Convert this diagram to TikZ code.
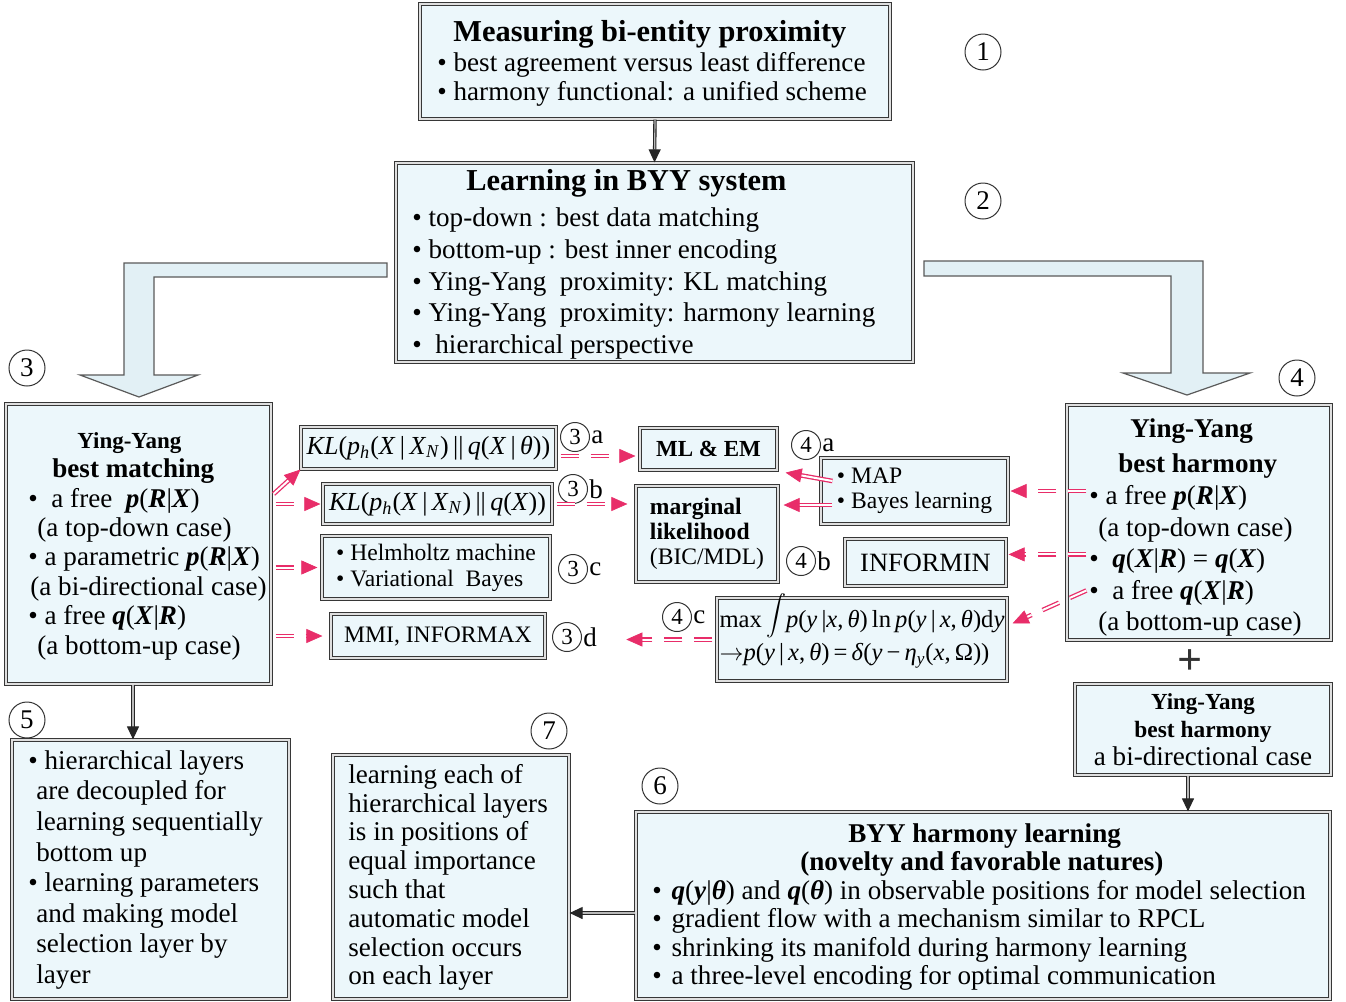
\documentclass[tikz,border=0pt]{standalone}
\usepackage{fontspec}
\setmainfont{Liberation Serif}
\usetikzlibrary{arrows.meta,calc}
\definecolor{boxfill}{RGB}{236,247,251}
\definecolor{boxline}{RGB}{55,55,55}
\definecolor{pinkc}{RGB}{232,45,105}
\definecolor{arrfill}{RGB}{226,240,245}
\definecolor{arrline}{RGB}{90,90,90}
\newcommand\mi[1]{\textit{#1}}
\newcommand\bi[1]{\textbf{\textit{#1}}}
\begin{document}
\begin{tikzpicture}[x=0.5pt,y=-0.5pt,
  bx/.style={draw=boxline, double=gray!25, double distance=0.9pt, line width=0.6pt, fill=boxfill, inner sep=0pt, rectangle},
  txt/.style={inner sep=0pt, align=left, anchor=west},
  cbig/.style={circle, draw=black!80, line width=0.5pt, minimum size=18pt, inner sep=0pt, font=\fontsize{13.5}{13.5}\selectfont},
  csmall/.style={circle, draw=black!80, line width=0.5pt, minimum size=14.5pt, inner sep=0pt, font=\fontsize{11.5}{11.5}\selectfont},
  lett/.style={inner sep=0.5pt, anchor=west, font=\fontsize{13.5}{13.5}\selectfont},
  pks/.style={draw=pinkc, double=white, line width=0.65pt, double distance=1pt},
  pkd/.style={pks, dash pattern=on 9pt off 6pt},
  pkt/.style={draw=pinkc, line width=0.3pt, dash pattern=on 0pt off 3000pt, -{Triangle[length=8pt,width=7pt]}},
  blk/.style={draw=black!85, double=gray!55, line width=0.55pt, double distance=0.6pt, -{Triangle[length=6.5pt,width=6pt]}},
  hollow/.style={draw=arrline, line width=0.6pt, fill=arrfill}
]
\fill[white] (0,0) rectangle (1346,1002);
\useasboundingbox (0,0) rectangle (1346,1002);

% hollow block arrows
\draw[hollow] (387,263) -- (124,263) -- (124,375) -- (80,375) -- (139,397) -- (198,375) -- (154,375) -- (154,277) -- (387,277) -- cycle;
\draw[hollow] (924,261) -- (1203,261) -- (1203,373) -- (1250,373) -- (1187,395) -- (1123,373) -- (1171,373) -- (1171,276) -- (924,276) -- cycle;

% big boxes
\node[bx, minimum width=235pt, minimum height=57.5pt] (b1) at (655,61.5) {};
\node[txt, font=\fontsize{13.55}{14.6}\selectfont] (b1t) at (437,63.5)
  {\hspace*{8pt}{\fontsize{15.2}{15}\selectfont\bfseries Measuring bi-entity proximity}\\
   • best agreement versus least difference\\
   • harmony functional: a unified scheme};

\node[bx, minimum width=258.5pt, minimum height=99.5pt] (b2) at (654.5,262.5) {};
\node[txt, font=\fontsize{13.55}{15.9}\selectfont] (b2t) at (412,264.5)
  {\hspace*{27pt}{\fontsize{15.2}{15}\selectfont\bfseries Learning in BYY system}\\[2pt]
   • top-down : best data matching\\
   • bottom-up : best inner encoding\\
   • Ying-Yang\ \ proximity: KL matching\\
   • Ying-Yang\ \ proximity: harmony learning\\
   •\ \ hierarchical perspective};

\node[bx, minimum width=132.5pt, minimum height=140pt] (b3) at (138.5,544) {};
\node[txt, font=\fontsize{13.55}{14.7}\selectfont] (b3t) at (28,546)
  {\hspace*{24.5pt}{\fontsize{11.5}{14.7}\selectfont\bfseries Ying-Yang}\\
   \hspace*{12pt}\textbf{best matching}\\
   •\ \ a free\ \ \bi{p}(\bi{R}|\bi{X})\\
   \hspace*{4.5pt}(a top-down case)\\
   • a parametric \bi{p}(\bi{R}|\bi{X})\\
   \hspace*{1pt}(a bi-directional case)\\
   • a free \bi{q}(\bi{X}|\bi{R})\\
   \hspace*{4.5pt}(a bottom-up case)};

\node[bx, minimum width=132pt, minimum height=117.5pt] (b4) at (1199,522.5) {};
\node[txt, font=\fontsize{13.55}{15.8}\selectfont] (b4t) at (1089,527.5)
  {\hspace*{20.5pt}\textbf{Ying-Yang}\\[2pt]
   \hspace*{14.5pt}\textbf{best harmony}\\
   • a free \bi{p}(\bi{R}|\bi{X})\\
   \hspace*{4.5pt}(a top-down case)\\
   •\ \ \bi{q}(\bi{X}|\bi{R}) = \bi{q}(\bi{X})\\
   •\ \ a free \bi{q}(\bi{X}|\bi{R})\\
   \hspace*{4.5pt}(a bottom-up case)};

\node[font=\fontsize{22}{22}\selectfont\bfseries, text=black!80, inner sep=0pt] (plus) at (1190,662) {+};

\node[bx, minimum width=128pt, minimum height=45.5pt, align=center, font=\fontsize{13.55}{14}\selectfont] (b4b) at (1203,729.5)
  {{\fontsize{11.5}{14}\selectfont\bfseries Ying-Yang}\\
   {\fontsize{11.7}{14}\selectfont\bfseries best harmony}\\
   a bi-directional case};

\node[bx, minimum width=138.5pt, minimum height=129.5pt] (b5) at (150.5,869.5) {};
\node[txt, font=\fontsize{13.55}{15.3}\selectfont] (b5t) at (28,870)
  {• hierarchical layers\\
   \hspace*{4pt}are decoupled for\\
   \hspace*{4pt}learning sequentially\\
   \hspace*{4pt}bottom up\\
   • learning parameters\\
   \hspace*{4pt}and making model\\
   \hspace*{4pt}selection layer by\\
   \hspace*{4pt}layer};

\node[bx, minimum width=118pt, minimum height=122pt] (b7) at (451,877) {};
\node[txt, font=\fontsize{13.55}{14.4}\selectfont] (b7t) at (348,877.5)
  {learning each of\\
   hierarchical layers\\
   is in positions of\\
   equal importance\\
   such that\\
   automatic model\\
   selection occurs\\
   on each layer};

\node[bx, minimum width=347pt, minimum height=93.5pt] (b6) at (983,905.5) {};
\node[txt, font=\fontsize{13.55}{14.2}\selectfont] (b6t) at (652,907)
  {\hspace*{98pt}\textbf{BYY harmony learning}\\
   \hspace*{74pt}\textbf{(novelty and favorable natures)}\\
   • \hspace{1.5pt}\bi{q}(\bi{y}|\bi{θ}) and \bi{q}(\bi{θ}) in observable positions for model selection\\
   • \hspace{1.5pt}gradient flow with a mechanism similar to RPCL\\
   • \hspace{1.5pt}shrinking its manifold during harmony learning\\
   • \hspace{1.5pt}a three-level encoding for optimal communication};

% small boxes
\node[bx, minimum width=127.5pt, minimum height=21pt, font=\fontsize{13}{15}\selectfont] (kl1) at (428.5,448)
  {\mi{KL}(\mi{p}\textsubscript{\mi{h}}(\mi{X}\,|\,\mi{X}\textsubscript{\mi{N}})\,||\,\mi{q}(\mi{X}\,|\,\mi{θ}))};
\node[bx, minimum width=114.5pt, minimum height=20pt, font=\fontsize{13}{15}\selectfont] (kl2) at (437.5,504)
  {\mi{KL}(\mi{p}\textsubscript{\mi{h}}(\mi{X}\,|\,\mi{X}\textsubscript{\mi{N}})\,||\,\mi{q}(\mi{X}))};
\node[bx, minimum width=114pt, minimum height=31.5pt, align=left, font=\fontsize{11.8}{13}\selectfont] (helm) at (436,567.5)
  {• Helmholtz machine\\ • Variational\ \ Bayes};
\node[bx, minimum width=107pt, minimum height=22pt, font=\fontsize{11.8}{13}\selectfont] (mmi) at (438,636) {MMI, INFORMAX};
\node[bx, minimum width=68.5pt, minimum height=21pt, font=\fontsize{11.5}{13}\selectfont\bfseries] (mlem) at (708.5,449) {ML \& EM};
\node[bx, minimum width=71pt, minimum height=48pt, align=left, font=\fontsize{11.8}{12.5}\selectfont] (marg) at (707,534)
  {\textbf{marginal}\\ \textbf{likelihood}\\ (BIC/MDL)};
\node[bx, minimum width=93.5pt, minimum height=33pt, align=left, font=\fontsize{11.8}{12.5}\selectfont] (map) at (914.5,491)
  {• MAP\\ • Bayes learning};
\node[bx, minimum width=80.5pt, minimum height=23.5pt, font=\fontsize{13.2}{14}\selectfont] (informin) at (925.5,562.5) {INFORMIN};
\node[bx, minimum width=145pt, minimum height=41.5pt, align=left, font=\fontsize{12.3}{16.5}\selectfont] (maxb) at (862,639.5)
  {max\,\raisebox{3pt}{\smash{$\displaystyle\int$}}\mi{p}(\mi{y}\,|\mi{x},\,\mi{θ})\,ln\,\mi{p}(\mi{y}\,|\,\mi{x},\,\mi{θ})d\mi{y}\\
   $\rightarrow$\mi{p}(\mi{y}\,|\,\mi{x},\,\mi{θ})\,=\,\mi{δ}(\mi{y}\,−\,\mi{η}\textsubscript{\mi{y}}(\mi{x},\,Ω))};

% circled numbers
\node[cbig] (n1) at (983,52) {1};
\node[cbig] (n2) at (983,201) {2};
\node[cbig] (n3) at (27,368) {3};
\node[cbig] (n4) at (1297,378) {4};
\node[cbig] (n5) at (27,720) {5};
\node[cbig] (n6) at (660,786) {6};
\node[cbig] (n7) at (549,731) {7};
\node[csmall] (n3a) at (575,437) {3}; \node[lett] (n3al) at (n3a.east) {a};
\node[csmall] (n3b) at (573,489) {3}; \node[lett] (n3bl) at (n3b.east) {b};
\node[csmall] (n3c) at (573,569) {3}; \node[lett] (n3cl) at (n3c.east) {c};
\node[csmall] (n3d) at (567,637) {3}; \node[lett] (n3dl) at (n3d.east) {d};
\node[csmall] (n4a) at (806,445) {4}; \node[lett] (n4al) at (n4a.east) {a};
\node[csmall] (n4b) at (801,561) {4}; \node[lett] (n4bl) at (n4b.east) {b};
\node[csmall] (n4c) at (677,617) {4}; \node[lett] (n4cl) at (n4c.east) {c};

% black connectors
\draw[blk] (b1.south) -- (b2.north);
\coordinate (r1) at ([xshift=-2.75pt]b3.south);
\draw[blk] (r1) -- (r1 |- b5.north);
\coordinate (r2) at ([xshift=-7.5pt]b4b.south);
\draw[blk] (r2) -- (r2 |- b6.north);
\coordinate (r3) at ([yshift=-3.75pt]b6.west);
\draw[blk] (r3) -- (r3 -| b7.east);

% pink connectors, left side
\coordinate (s1) at ([xshift=1pt,yshift=25pt]b3.east);
\draw[pks, shorten >=6pt] (s1) -- (kl1.south west);
\draw[pkt] (s1) -- (kl1.south west);
\coordinate (s2) at ([xshift=2pt]b3.east |- kl2.west);
\draw[pkd, shorten >=7pt] (s2) -- (kl2.west);
\draw[pkt, shorten >=1pt] (s2) -- (kl2.west);
\coordinate (s3) at ([xshift=2pt]b3.east |- helm.west);
\draw[pkd, shorten >=8pt] (s3) -- (helm.west);
\draw[pkt, shorten >=2pt] (s3) -- (helm.west);
\coordinate (s4) at ([xshift=2pt]b3.east |- mmi.west);
\draw[pkd, shorten >=10pt] (s4) -- (mmi.west);
\draw[pkt, shorten >=4pt] (s4) -- (mmi.west);
\coordinate (p1) at ([xshift=2pt,yshift=-4pt]kl1.east);
\draw[pkd, shorten >=8pt] (p1) -- (p1 -| mlem.west);
\draw[pkt, shorten >=2pt] (p1) -- (p1 -| mlem.west);
\coordinate (p3) at ([xshift=2pt]kl2.east);
\draw[pkd, shorten >=10pt] (p3) -- (p3 -| marg.west);
\draw[pkt, shorten >=4pt] (p3) -- (p3 -| marg.west);

% pink connectors, middle
\coordinate (p4) at ([xshift=6pt,yshift=5pt]map.west);
\coordinate (p5) at ([xshift=4pt,yshift=-1pt]mlem.south east);
\draw[pks, shorten >=6pt] (p4) -- (p5);
\draw[pkt] (p4) -- (p5);
\coordinate (p2) at ([xshift=6pt,yshift=-7pt]map.west);
\coordinate (p6) at ([xshift=2.5pt]p2 -| marg.east);
\draw[pks, shorten >=6pt] (p2) -- (p6);
\draw[pkt] (p2) -- (p6);

% pink connectors, right side
\coordinate (q1) at ([xshift=10pt]b4.west |- map.east);
\coordinate (q1e) at ([xshift=1pt]map.east);
\draw[pkd, shorten >=6pt] (q1) -- (q1e);
\draw[pkt] (q1) -- (q1e);
\coordinate (q2) at ([xshift=1pt,yshift=-8pt]informin.north east);
\coordinate (q2s) at ([xshift=10pt]q2 -| b4.west);
\draw[pkd, shorten >=6pt] (q2s) -- (q2);
\draw[pkt] (q2s) -- (q2);
\coordinate (q3) at ([xshift=10pt,yshift=-34pt]b4.west);
\coordinate (q3e) at ([xshift=2.5pt,yshift=-13pt]maxb.north east);
\draw[pkd, shorten >=6pt] (q3) -- (q3e);
\draw[pkt] (q3) -- (q3e);
\coordinate (q4) at ([xshift=-2pt]maxb.west);
\coordinate (q4e) at ([xshift=14pt]maxb.west -| n3dl.east);
\draw[pkd, shorten >=6pt] (q4) -- (q4e);
\draw[pkt] (q4) -- (q4e);
\end{tikzpicture}
\end{document}
